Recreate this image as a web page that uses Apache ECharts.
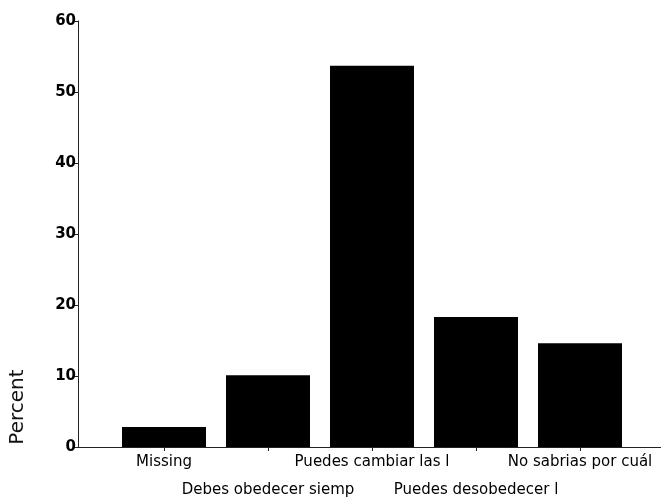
<!DOCTYPE html>
<html>
<head>
<meta charset="utf-8">
<script src="https://cdn.jsdelivr.net/npm/echarts@6/dist/echarts.min.js"></script>
<style>
  html, body { margin: 0; padding: 0; background: #fff; }
  #chart { width: 661px; height: 499px; }
</style>
</head>
<body>
<div id="chart"></div>
<script>
// categorias y porcentajes
const categories = ['Missing', 'Debes obedecer siemp', 'Puedes cambiar las l', 'Puedes desobedecer l', 'No sabrias por cuál']
const percents = [2.8, 10.1, 53.7, 18.3, 14.6]
const yTicks = { min: 0, max: 60, step: 10 }

const chart = echarts.init(document.getElementById('chart'))

const font = 'DejaVu Sans'

const option = {
    animation: false,
    grid: [
        // marco: eje Y y lineas superior / inferior
        { left: 78, right: 0, top: 21, bottom: 52, outerBoundsMode: 'none' },
        // barras
        { left: 112, right: 29, top: 21, bottom: 52, outerBoundsMode: 'none' }
    ],
    xAxis: [
        {
            gridIndex: 0, type: 'value', min: 0, max: 1,
            axisLine: { show: true, onZero: false, lineStyle: { color: '#222', width: 1 } },
            axisTick: { show: false }, axisLabel: { show: false }, splitLine: { show: false }
        },
        {
            gridIndex: 0, type: 'value', position: 'top', min: 0, max: 1,
            axisLine: { show: true, lineStyle: { color: '#222', width: 1 } },
            axisTick: { show: false }, axisLabel: { show: false }, splitLine: { show: false }
        },
        {
            gridIndex: 1, type: 'category', data: categories,
            axisLine: { show: false },
            axisTick: { show: true, alignWithLabel: true, length: 4, lineStyle: { color: '#222' } },
            axisLabel: {
                interval: 0,
                margin: 1,
                color: '#000',
                fontFamily: font,
                fontSize: 15,
                lineHeight: 28,
                formatter: (val, i) => i % 2 === 1 ? '\n' + val : val
            }
        }
    ],
    yAxis: [
        {
            gridIndex: 0, type: 'value',
            min: yTicks.min, max: yTicks.max, interval: yTicks.step,
            axisLine: { show: true, lineStyle: { color: '#222', width: 1 } },
            axisTick: { show: true, inside: false, length: 5, lineStyle: { color: '#222' } },
            axisLabel: { margin: 2, color: '#000', fontFamily: font, fontWeight: 'bold', fontSize: 15 },
            splitLine: { show: false }
        },
        {
            gridIndex: 1, type: 'value',
            min: yTicks.min, max: yTicks.max, interval: yTicks.step,
            show: false
        }
    ],
    series: [
        {
            type: 'bar',
            xAxisIndex: 2,
            yAxisIndex: 1,
            data: percents,
            barWidth: 84,
            itemStyle: { color: '#000' }
        }
    ],
    graphic: [
        {
            type: 'text',
            x: 18,
            y: 407,
            rotation: Math.PI / 2,
            style: {
                text: 'Percent',
                fontFamily: font,
                fontSize: 20,
                fill: '#111',
                align: 'center',
                verticalAlign: 'middle'
            }
        }
    ]
}

chart.setOption(option)
</script>
</body>
</html>
